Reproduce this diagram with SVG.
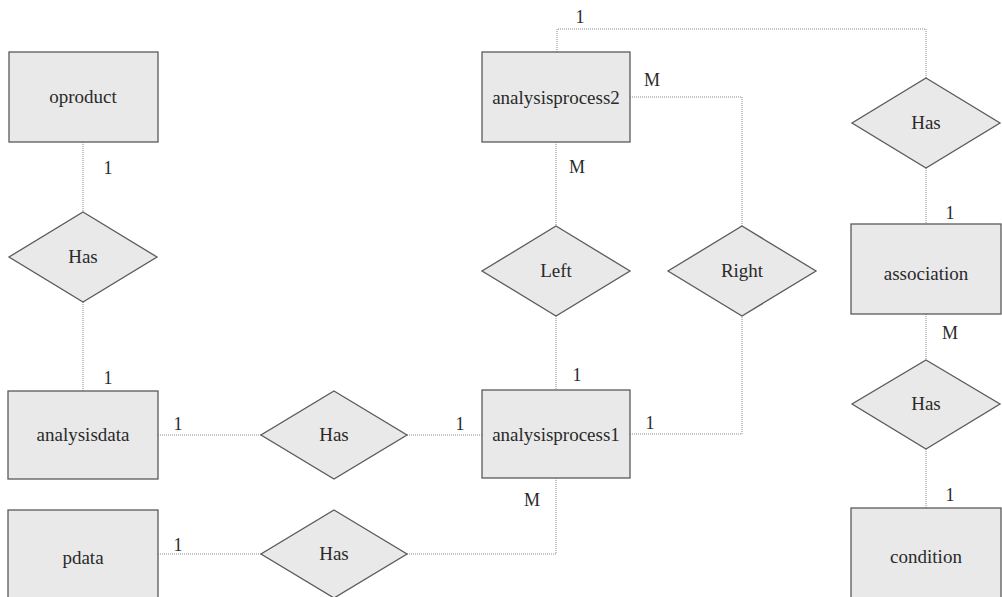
<svg xmlns="http://www.w3.org/2000/svg" width="1002" height="597" viewBox="0 0 1002 597" font-family="'Liberation Serif', 'Times New Roman', serif">
  <style>
    .entity { fill: #e9e9e9; stroke: #5a5a5a; stroke-width: 1.3; }
    .relation { fill: #e9e9e9; stroke: #5a5a5a; stroke-width: 1.3; }
    .link { fill: none; stroke: #8a8a8a; stroke-width: 1; stroke-dasharray: 1 1; }
    text { font-family: 'Liberation Serif', 'Times New Roman', serif; fill: #2a2a2a; text-anchor: middle; }
    .label { font-size: 19px; }
    .card { font-size: 18px; }
  </style>
  <rect width="1002" height="597" fill="#ffffff"/>

  <!-- connectors -->
  <g id="connectors">
    <polyline class="link" points="83,142 83,212"/>
    <polyline class="link" points="83,302 83,391"/>
    <polyline class="link" points="158,435 261,435"/>
    <polyline class="link" points="407,435 482,435"/>
    <polyline class="link" points="158,554 261,554"/>
    <polyline class="link" points="407,554 556,554 556,478"/>
    <polyline class="link" points="556,142 556,226"/>
    <polyline class="link" points="556,316 556,390"/>
    <polyline class="link" points="630,97 742,97 742,226"/>
    <polyline class="link" points="630,434 742,434 742,316"/>
    <polyline class="link" points="557,52 557,29 926,29 926,78"/>
    <polyline class="link" points="926,168 926,224"/>
    <polyline class="link" points="926,314 926,360"/>
    <polyline class="link" points="926,449 926,508"/>
  </g>

  <!-- cardinality labels -->
  <g id="cardinalities">
    <text class="card" x="108" y="174">1</text>
    <text class="card" x="108" y="384">1</text>
    <text class="card" x="178" y="430">1</text>
    <text class="card" x="460" y="430">1</text>
    <text class="card" x="178" y="551">1</text>
    <text class="card" x="580" y="23">1</text>
    <text class="card" x="652" y="86">M</text>
    <text class="card" x="577" y="173">M</text>
    <text class="card" x="577" y="381">1</text>
    <text class="card" x="650" y="429">1</text>
    <text class="card" x="532" y="506">M</text>
    <text class="card" x="950" y="219">1</text>
    <text class="card" x="950" y="339">M</text>
    <text class="card" x="950" y="501">1</text>
  </g>

  <!-- entities -->
  <g id="oproduct">
    <rect class="entity" x="9" y="52" width="149" height="90"/>
    <text class="label" x="83" y="103">oproduct</text>
  </g>
  <g id="analysisdata">
    <rect class="entity" x="8" y="391" width="150" height="88"/>
    <text class="label" x="83" y="441">analysisdata</text>
  </g>
  <g id="pdata">
    <rect class="entity" x="8" y="510" width="150" height="95"/>
    <text class="label" x="83" y="564">pdata</text>
  </g>
  <g id="analysisprocess2">
    <rect class="entity" x="482" y="52" width="148" height="90"/>
    <text class="label" x="556" y="104">analysisprocess2</text>
  </g>
  <g id="analysisprocess1">
    <rect class="entity" x="482" y="390" width="148" height="88"/>
    <text class="label" x="556" y="441">analysisprocess1</text>
  </g>
  <g id="association">
    <rect class="entity" x="851" y="224" width="150" height="90"/>
    <text class="label" x="926" y="280">association</text>
  </g>
  <g id="condition">
    <rect class="entity" x="851" y="508" width="150" height="97"/>
    <text class="label" x="926" y="563">condition</text>
  </g>

  <!-- relationships -->
  <g id="has-oproduct">
    <polygon class="relation" points="83,212 157,257 83,302 9,257"/>
    <text class="label" x="83" y="263">Has</text>
  </g>
  <g id="has-analysisdata">
    <polygon class="relation" points="334,391 407,435 334,479 261,435"/>
    <text class="label" x="334" y="441">Has</text>
  </g>
  <g id="has-pdata">
    <polygon class="relation" points="334,510 407,554 334,598 261,554"/>
    <text class="label" x="334" y="560">Has</text>
  </g>
  <g id="left">
    <polygon class="relation" points="556,226 630,271 556,316 482,271"/>
    <text class="label" x="556" y="277">Left</text>
  </g>
  <g id="right">
    <polygon class="relation" points="742,226 816,271 742,316 668,271"/>
    <text class="label" x="742" y="277">Right</text>
  </g>
  <g id="has-association">
    <polygon class="relation" points="926,78 1000,123 926,168 852,123"/>
    <text class="label" x="926" y="129">Has</text>
  </g>
  <g id="has-condition">
    <polygon class="relation" points="926,360 1000,404 926,449 852,404"/>
    <text class="label" x="926" y="410">Has</text>
  </g>
</svg>
